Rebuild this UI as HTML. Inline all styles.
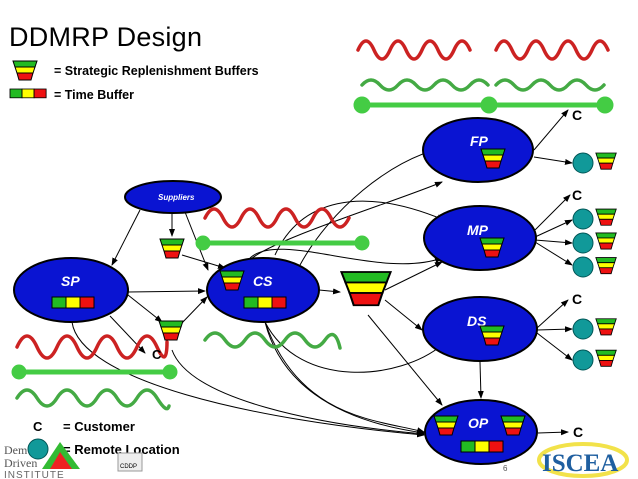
<!DOCTYPE html>
<html><head><style>body{margin:0;background:#fff}svg{display:block}</style></head><body>
<svg width="638" height="479" viewBox="0 0 638 479" xmlns="http://www.w3.org/2000/svg" font-family="Liberation Sans, Arial, sans-serif">
<defs>
<marker id="a" markerWidth="8" markerHeight="8" refX="7" refY="4" orient="auto" markerUnits="userSpaceOnUse"><path d="M0,1 L8,4 L0,7z" fill="#000"/></marker>
<g id="fun"><path d="M-12,-12 L12,-12 L10,-6 L-10,-6z" fill="#22bb22" stroke="#000" stroke-width="1"/><path d="M-10,-6 L10,-6 L8,0 L-8,0z" fill="#ffff00" stroke="#000" stroke-width="1"/><path d="M-8,0 L8,0 L6,7 L-6,7z" fill="#ee1111" stroke="#000" stroke-width="1"/></g>
<g id="tb"><rect x="0" y="0" width="14" height="11" fill="#22bb22" stroke="#000"/><rect x="14" y="0" width="14" height="11" fill="#ffff00" stroke="#000"/><rect x="28" y="0" width="14" height="11" fill="#ee1111" stroke="#000"/></g>
</defs>

<text x="9" y="46" font-size="27" fill="#000" textLength="193">DDMRP Design</text>
<use href="#fun" x="25" y="73"/>
<text x="54" y="75" font-size="12.5" font-weight="bold">= Strategic Replenishment Buffers</text>
<g transform="translate(10,89) scale(0.86,0.8)"><use href="#tb"/></g>
<text x="54" y="99" font-size="12.5" font-weight="bold">= Time Buffer</text>

<g stroke="#000" stroke-width="1" fill="none" marker-end="url(#a)">
<path d="M140,210 L112,265"/>
<path d="M172,214 L172,236"/>
<path d="M185,212 L208,270"/>
<path d="M182,255 L225,268"/>
<path d="M128,292 L205,291"/>
<path d="M128,295 L162,322"/>
<path d="M110,316 L145,353"/>
<path d="M180,325 L207,297"/>
<path d="M319,290 L340,292"/>
<path d="M385,290 L442,262"/>
<path d="M385,300 L422,330"/>
<path d="M368,315 L442,405"/>
<path d="M300,265 C330,210 390,160 442,148"/>
<path d="M275,255 C300,200 360,185 444,220"/>
<path d="M250,260 C270,240 400,200 442,182"/>
<path d="M250,258 C280,230 380,280 442,258"/>
<path d="M265,322 C300,390 400,380 442,345"/>
<path d="M265,322 C300,420 380,420 424,432"/>
<path d="M265,322 C280,380 330,420 424,433"/>
<path d="M172,350 C190,400 320,425 424,434"/>
<path d="M72,322 C80,380 250,420 424,435"/>
<path d="M480,362 L481,398"/>
<path d="M534,150 L568,110"/>
<path d="M534,157 L572,163"/>
<path d="M535,230 L570,195"/>
<path d="M535,237 L572,220"/>
<path d="M535,240 L572,243"/>
<path d="M535,242 L572,265"/>
<path d="M537,328 L568,300"/>
<path d="M537,330 L572,329"/>
<path d="M537,333 L572,360"/>
<path d="M538,433 L568,432"/>
</g>

<g stroke="#44cc44" fill="#44cc44">
<line x1="362" y1="105" x2="605" y2="105" stroke-width="5"/>
<circle cx="362" cy="105" r="8"/><circle cx="489" cy="105" r="8"/><circle cx="605" cy="105" r="8"/>
<line x1="203" y1="243" x2="362" y2="243" stroke-width="5"/>
<circle cx="203" cy="243" r="7"/><circle cx="362" cy="243" r="7"/>
<line x1="17" y1="372" x2="170" y2="372" stroke-width="5"/>
<circle cx="19" cy="372" r="7"/><circle cx="170" cy="372" r="7"/>
</g>

<g fill="none" stroke-width="3.5" stroke-linecap="round">
<path d="M358,50 q8,-18 16,0 t16,0 t16,0 t16,0 t16,0 t16,0 t16,0" stroke="#cc2222"/>
<path d="M496,50 q8,-18 16,0 t16,0 t16,0 t16,0 t16,0 t16,0 t16,0" stroke="#cc2222"/>
<path d="M362,85 q9,-10 18,0 t18,0 t18,0 t18,0 t18,0 t18,0 t18,0" stroke="#44aa44"/>
<path d="M496,85 q9,-10 18,0 t18,0 t18,0 t18,0 t18,0 t18,0" stroke="#44aa44"/>
<path d="M205,218 q9,-18 18,0 t18,0 t18,0 t18,0 t18,0 t18,0 t18,0 t18,0" stroke="#cc2222"/>
<path d="M17,347 q10,-22 20,0 t20,0 t20,0 t20,0 t20,0 t20,0 t20,0 t10,-5" stroke="#cc2222"/>
<path d="M17,398 q10,-16 20,0 t20,0 t20,0 t20,0 t20,0 t20,0 t20,0 t12,8" stroke="#44aa44"/>
<path d="M205,340 q10,-14 20,0 t20,0 t20,0 t20,0 t20,0 t20,0 t15,8" stroke="#44aa44"/>
</g>

<g fill="#0a14d2" stroke="#000" stroke-width="2">
<ellipse cx="173" cy="197" rx="48" ry="16"/>
<ellipse cx="71" cy="290" rx="57" ry="32"/>
<ellipse cx="263" cy="290" rx="56" ry="32"/>
<ellipse cx="478" cy="150" rx="55" ry="32"/>
<ellipse cx="480" cy="238" rx="56" ry="32"/>
<ellipse cx="480" cy="329" rx="57" ry="32"/>
<ellipse cx="481" cy="432" rx="56" ry="32"/>
</g>
<g fill="#fff" font-weight="bold" font-style="italic" font-size="14">
<text x="158" y="200" font-size="8">Suppliers</text>
<text x="61" y="286">SP</text>
<text x="253" y="286">CS</text>
<text x="470" y="146">FP</text>
<text x="467" y="235">MP</text>
<text x="467" y="326">DS</text>
<text x="468" y="428">OP</text>
</g>

<use href="#fun" x="172" y="251"/>
<use href="#fun" x="171" y="333"/>
<use href="#fun" x="232" y="283"/>
<use href="#fun" x="493" y="161"/>
<use href="#fun" x="492" y="250"/>
<use href="#fun" x="492" y="338"/>
<use href="#fun" x="446" y="428"/>
<use href="#fun" x="513" y="428"/>
<g transform="translate(366,293) scale(2.05,1.75)"><use href="#fun"/></g>
<use href="#tb" x="52" y="297"/>
<use href="#tb" x="244" y="297"/>
<use href="#tb" x="461" y="441"/>

<g fill="#119999" stroke="#055" stroke-width="1">
<circle cx="583" cy="163" r="10"/><circle cx="583" cy="219" r="10"/><circle cx="583" cy="243" r="10"/><circle cx="583" cy="267" r="10"/>
<circle cx="583" cy="329" r="10"/><circle cx="583" cy="360" r="10"/>
</g>
<g transform="scale(0.85)">
<use href="#fun" x="713" y="192"/><use href="#fun" x="713" y="258"/><use href="#fun" x="713" y="286"/><use href="#fun" x="713" y="315"/><use href="#fun" x="713" y="387"/><use href="#fun" x="713" y="424"/>
</g>
<g font-weight="bold" font-size="14">
<text x="572" y="120">C</text><text x="572" y="200">C</text><text x="572" y="304">C</text><text x="573" y="437">C</text>
<text x="152" y="359" font-size="13">C</text>
<text x="33" y="431" font-size="13">C</text>
<text x="63" y="431" font-size="13">=  Customer</text>
<text x="63" y="454" font-size="13">= Remote Location</text>
</g>
<circle cx="38" cy="449" r="10" fill="#119999" stroke="#055"/>
<text x="4" y="454" font-family="Liberation Serif, serif" font-size="12" fill="#555">Dem</text>
<text x="4" y="467" font-family="Liberation Serif, serif" font-size="12" fill="#555">Driven</text>
<text x="4" y="478" font-size="10" fill="#666" letter-spacing="1">INSTITUTE</text>
<path d="M42,469 L60,442 L80,469z" fill="#33bb33"/><path d="M50,469 L60,452 L72,469z" fill="#ee2222"/>
<rect x="118" y="453" width="24" height="18" fill="#eee" stroke="#999"/>
<text x="120" y="468" font-size="6">CDDP</text>
<text x="503" y="471" font-size="8" fill="#555">6</text>
<ellipse cx="583" cy="460" rx="44" ry="16" fill="none" stroke="#f2e24a" stroke-width="4"/>
<text x="542" y="471" font-family="Liberation Serif, serif" font-weight="bold" font-size="25" fill="#1f5fa0">ISCEA</text>
</svg>
</body></html>
